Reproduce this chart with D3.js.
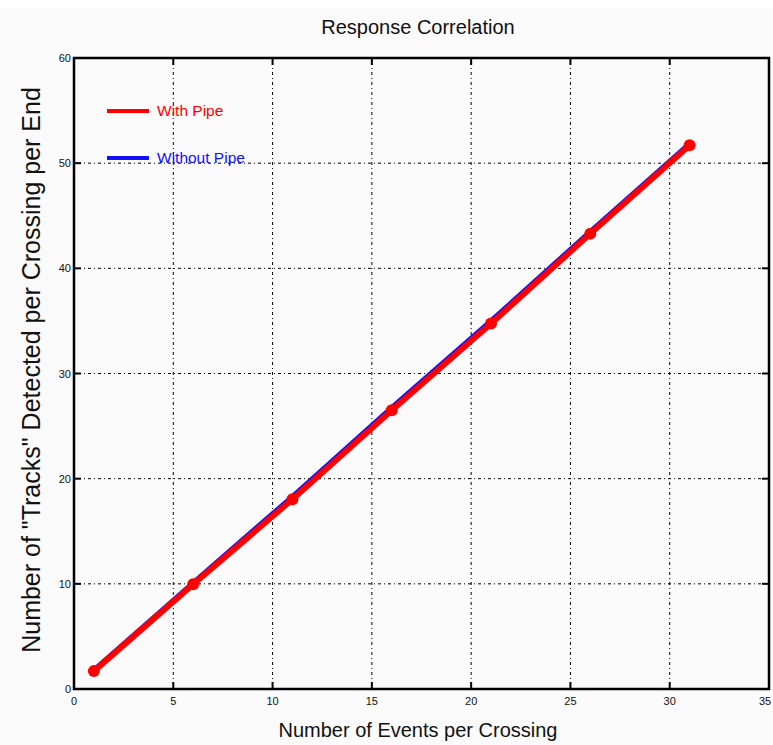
<!DOCTYPE html>
<meta charset="utf-8">
<style>
  body { margin: 0; background: #fafafa; }
  text { font-family: "Liberation Sans", Arial, sans-serif; fill: #111; }
  .grid line { stroke: #000; stroke-width: 1; stroke-dasharray: 1 3 3 3; }
  .tick-label { font-size: 11px; }
</style>
<body>
<script src="https://d3js.org/d3.v7.min.js"></script>
<script>
  // events per crossing
  const events = [1, 6, 11, 16, 21, 26, 31];
  const withPipe = [1.7, 9.95, 18.05, 26.5, 34.75, 43.3, 51.7];
  const withoutPipe = [1.8, 10.1, 18.3, 26.75, 35.0, 43.5, 51.85];
  const xTicks = [0, 5, 10, 15, 20, 25, 30, 35];
  const yTicks = [0, 10, 20, 30, 40, 50, 60];

  const W = 773, H = 745;
  const mLeft = 74, mRight = 769, mTop = 58, mBottom = 689;

  const svg = d3.select("body").append("svg")
    .attr("width", W).attr("height", H);

  svg.append("rect").attr("width", W).attr("height", 8).attr("fill", "#fff");

  const x = d3.scaleLinear().domain([0, 35]).range([mLeft, mRight]);
  const y = d3.scaleLinear().domain([0, 60]).range([mBottom, mTop]);

  // grid
  const grid = svg.append("g").attr("class", "grid");
  grid.selectAll(".vx").data(xTicks.slice(1, -1)).join("line")
    .attr("x1", d => x(d)).attr("x2", d => x(d))
    .attr("y1", mTop).attr("y2", mBottom);
  grid.selectAll(".hy").data(yTicks.slice(1, -1)).join("line")
    .attr("class", "hy")
    .attr("x1", mLeft).attr("x2", mRight)
    .attr("y1", d => y(d)).attr("y2", d => y(d));

  // tick marks inside the box
  const ticks = svg.append("g").attr("stroke", "#000").attr("stroke-width", 2);
  xTicks.slice(1, -1).forEach(d => {
    ticks.append("line").attr("x1", x(d)).attr("x2", x(d)).attr("y1", mBottom).attr("y2", mBottom - 7);
    ticks.append("line").attr("x1", x(d)).attr("x2", x(d)).attr("y1", mTop).attr("y2", mTop + 7);
  });
  yTicks.slice(1, -1).forEach(d => {
    ticks.append("line").attr("x1", mLeft).attr("x2", mLeft + 7).attr("y1", y(d)).attr("y2", y(d));
    ticks.append("line").attr("x1", mRight).attr("x2", mRight - 7).attr("y1", y(d)).attr("y2", y(d));
  });

  // box
  svg.append("rect")
    .attr("x", mLeft).attr("y", mTop)
    .attr("width", mRight - mLeft).attr("height", mBottom - mTop)
    .attr("fill", "none").attr("stroke", "#000").attr("stroke-width", 2.5);

  // tick labels
  svg.selectAll(".xl").data(xTicks).join("text")
    .attr("class", "tick-label")
    .attr("x", d => d === 35 ? x(d) - 4 : x(d)).attr("y", mBottom + 16)
    .attr("text-anchor", "middle").text(d => d);
  svg.selectAll(".yl").data(yTicks).join("text")
    .attr("class", "tick-label")
    .attr("x", mLeft - 3).attr("y", d => y(d) + 4)
    .attr("text-anchor", "end").text(d => d);

  // lines
  const line = d3.line().x((d, i) => x(events[i])).y(d => y(d));
  svg.append("path").datum(withoutPipe).attr("d", line)
    .attr("fill", "none").attr("stroke", "#1010ff").attr("stroke-width", 5);
  svg.append("path").datum(withPipe).attr("d", line)
    .attr("fill", "none").attr("stroke", "#ff0000").attr("stroke-width", 6);
  svg.selectAll(".pt").data(withPipe).join("circle")
    .attr("cx", (d, i) => x(events[i])).attr("cy", d => y(d))
    .attr("r", 6).attr("fill", "#ff0000");

  // legend
  const legend = [["With Pipe", "#ff0000", 111], ["Without Pipe", "#1010ff", 158]];
  legend.forEach(([name, c, ly]) => {
    svg.append("line").attr("x1", 107).attr("x2", 149).attr("y1", ly).attr("y2", ly)
      .attr("stroke", c).attr("stroke-width", 4);
    svg.append("text").attr("x", 157).attr("y", ly + 5)
      .style("font-size", "15.5px").style("fill", c).text(name);
  });

  // titles
  svg.append("text").attr("x", 418).attr("y", 34).attr("text-anchor", "middle")
    .style("font-size", "20px").text("Response Correlation");
  svg.append("text").attr("x", 418).attr("y", 737).attr("text-anchor", "middle")
    .style("font-size", "20px").text("Number of Events per Crossing");
  svg.append("text")
    .attr("transform", "translate(40,370) rotate(-90)")
    .attr("text-anchor", "middle")
    .style("font-size", "25px")
    .text('Number of "Tracks" Detected per Crossing per End');
</script>
</body>
</html>
